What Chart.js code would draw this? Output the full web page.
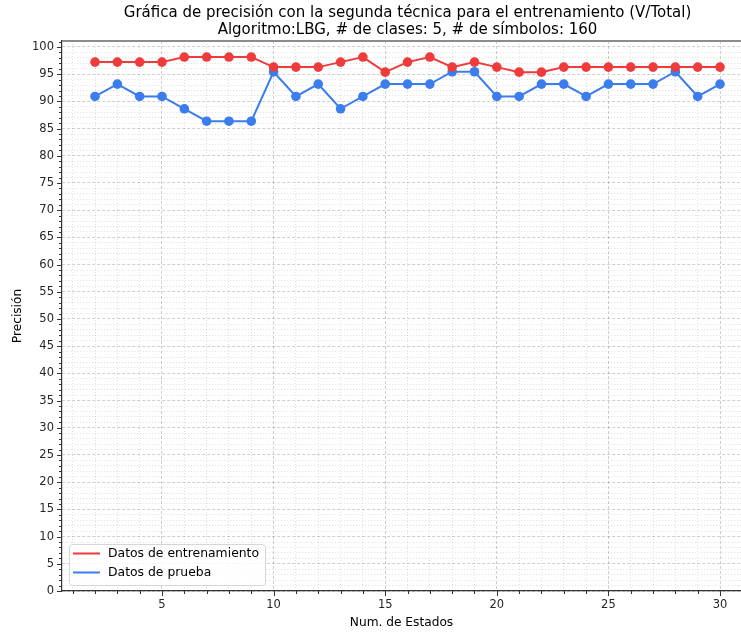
<!DOCTYPE html>
<html>
<head>
<meta charset="utf-8">
<script src="https://cdn.jsdelivr.net/npm/chart.js@4/dist/chart.umd.min.js"></script>
<style>
  html, body { margin: 0; padding: 0; background: #ffffff; }
  canvas { display: block; }
</style>
</head>
<body>
<canvas id="chart" width="741" height="634"></canvas>
<script>
// Number of HMM states evaluated
const states = [2, 3, 4, 5, 6, 7, 8, 9, 10, 11, 12, 13, 14, 15, 16, 17, 18, 19, 20, 21, 22, 23, 24, 25, 26, 27, 28, 29, 30];

// Accuracy (%) on the training set
const trainAcc = [97.22, 97.22, 97.22, 97.22, 98.15, 98.15, 98.15, 98.15, 96.30, 96.30,
                  96.30, 97.22, 98.15, 95.37, 97.22, 98.15, 96.30, 97.22, 96.30, 95.37,
                  95.37, 96.30, 96.30, 96.30, 96.30, 96.30, 96.30, 96.30, 96.30];

// Accuracy (%) on the test set
const testAcc = [90.91, 93.18, 90.91, 90.91, 88.64, 86.36, 86.36, 86.36, 95.45, 90.91,
                 93.18, 88.64, 90.91, 93.18, 93.18, 93.18, 95.45, 95.45, 90.91, 90.91,
                 93.18, 93.18, 90.91, 93.18, 93.18, 93.18, 95.45, 90.91, 93.18];

const seriesNames = ['Datos de entrenamiento', 'Datos de prueba'];
const titleLines = [
  'Gráfica de precisión con la segunda técnica para el entrenamiento (V/Total)',
  'Algoritmo:LBG, # de clases: 5, # de símbolos: 160'
];
const xLabel = 'Num. de Estados';
const yLabel = 'Precisión';

// Labelled (major) ticks; unlabelled minor ticks fall on every integer
const xMajorTicks = [5, 10, 15, 20, 25, 30];
const yMajorTicks = [0, 5, 10, 15, 20, 25, 30, 35, 40, 45, 50, 55, 60, 65, 70, 75, 80, 85, 90, 95, 100];
const minorStep = 1;

// Centre of the full padded state range; titles are centred over it
const xRangeCentre = 16;

const RED = '#ef3b3b';
const BLUE = '#3b7ded';
const FONT = 'DejaVu Sans';

function integerTicks(scale) {
  const ticks = [];
  const start = Math.ceil(scale.min / minorStep) * minorStep;
  for (let v = start; v <= scale.max + 1e-9; v += minorStep) ticks.push({ value: v });
  scale.ticks = ticks;
}

function gridStyle(majors) {
  return {
    drawTicks: false,
    lineWidth: 0.8,
    color: (ctx) => (ctx.tick && majors.includes(ctx.tick.value)) ? 'rgba(0,0,0,0.24)' : 'rgba(0,0,0,0.16)'
  };
}

function borderStyle(majors) {
  return {
    display: true,
    color: '#333333',
    width: 1.2,
    dash: (ctx) => ctx.tick ? (majors.includes(ctx.tick.value) ? [3, 2] : [1, 2]) : []
  };
}

// Keep the title centred over the whole padded data range
const titleCentre = {
  id: 'titleCentre',
  afterLayout(chart) {
    const tb = chart.titleBlock;
    if (!tb) return;
    const half = (tb.right - tb.left) / 2;
    const c = chart.scales.x.getPixelForValue(xRangeCentre);
    tb.left = c - half;
    tb.right = c + half;
  }
};

// Outward tick marks: longer on labelled ticks, shorter on minor ones
const tickMarks = {
  id: 'tickMarks',
  afterDraw(chart) {
    const { ctx, scales } = chart;
    ctx.save();
    ctx.strokeStyle = '#333333';
    ctx.lineWidth = 1;
    const xs = scales.x, ys = scales.y;
    xs.ticks.forEach(t => {
      const px = Math.round(xs.getPixelForValue(t.value)) + 0.5;
      const len = xMajorTicks.includes(t.value) ? 5 : 3;
      ctx.beginPath();
      ctx.moveTo(px, xs.top);
      ctx.lineTo(px, xs.top + len);
      ctx.stroke();
    });
    ys.ticks.forEach(t => {
      const py = Math.round(ys.getPixelForValue(t.value)) + 0.5;
      const len = yMajorTicks.includes(t.value) ? 5 : 3;
      ctx.beginPath();
      ctx.moveTo(ys.right, py);
      ctx.lineTo(ys.right - len, py);
      ctx.stroke();
    });
    // upper frame line
    const area = chart.chartArea;
    ctx.strokeStyle = '#8c8c8c';
    ctx.lineWidth = 2;
    ctx.beginPath();
    ctx.moveTo(area.left, area.top);
    ctx.lineTo(area.right, area.top);
    ctx.stroke();
    ctx.restore();
  }
};

// Legend boxed inside the lower-left corner of the plot area
const innerLegend = {
  id: 'innerLegend',
  afterDraw(chart) {
    const { ctx, chartArea } = chart;
    const ds = chart.data.datasets;
    ctx.save();
    ctx.font = '12.4px "' + FONT + '"';
    const textW = Math.max(...ds.map(d => ctx.measureText(d.label).width));
    const rowH = 19;
    const lineLen = 27;
    const padX = 4, gap = 8, padR = 6;
    const w = padX + lineLen + gap + textW + padR;
    const h = 10 + rowH * (ds.length - 1) + 12;
    const x0 = chartArea.left + 7;
    const y0 = chartArea.bottom - 6 - h;
    ctx.fillStyle = 'rgba(255,255,255,0.8)';
    ctx.strokeStyle = '#d6d6d6';
    ctx.lineWidth = 1;
    ctx.beginPath();
    ctx.roundRect(x0 + 0.5, y0 + 0.5, w, h, 3);
    ctx.fill();
    ctx.stroke();
    ds.forEach((d, i) => {
      const cy = y0 + 9.5 + i * rowH;
      ctx.strokeStyle = d.borderColor;
      ctx.lineWidth = 2;
      ctx.beginPath();
      ctx.moveTo(x0 + padX, cy);
      ctx.lineTo(x0 + padX + lineLen, cy);
      ctx.stroke();
      ctx.fillStyle = '#000000';
      ctx.textBaseline = 'middle';
      ctx.textAlign = 'left';
      ctx.fillText(d.label, x0 + padX + lineLen + gap, cy);
    });
    ctx.restore();
  }
};

function series(values) {
  return states.map((s, i) => ({ x: s, y: values[i] }));
}

new Chart(document.getElementById('chart'), {
  type: 'line',
  data: {
    datasets: [
      {
        label: seriesNames[0],
        data: series(trainAcc),
        borderColor: RED,
        backgroundColor: RED,
        borderWidth: 2,
        pointRadius: 4.8,
        pointBorderWidth: 0,
        pointBackgroundColor: RED,
        tension: 0
      },
      {
        label: seriesNames[1],
        data: series(testAcc),
        borderColor: BLUE,
        backgroundColor: BLUE,
        borderWidth: 2,
        pointRadius: 4.8,
        pointBorderWidth: 0,
        pointBackgroundColor: BLUE,
        tension: 0
      }
    ]
  },
  options: {
    responsive: false,
    animation: false,
    devicePixelRatio: 1,
    layout: { autoPadding: false, padding: { left: 0, right: 0, top: 0, bottom: 0 } },
    plugins: {
      legend: { display: false },
      tooltip: { enabled: false },
      title: {
        display: true,
        fullSize: false,
        text: titleLines,
        color: '#000000',
        font: { family: FONT, size: 15, weight: 'normal', lineHeight: 1.15 },
        padding: { top: 4.5, bottom: 2 }
      }
    },
    scales: {
      x: {
        type: 'linear',
        min: 0.52,
        max: 30.94,
        afterBuildTicks: integerTicks,
        afterFit: (scale) => {
          scale.height = 43;
          scale.paddingLeft = 0;
          scale.paddingRight = 0;
        },
        ticks: {
          autoSkip: false,
          maxRotation: 0,
          padding: 7,
          color: '#262626',
          font: { family: FONT, size: 11.5 },
          callback: (v) => xMajorTicks.includes(v) ? String(v) : ''
        },
        grid: gridStyle(xMajorTicks),
        border: borderStyle(xMajorTicks),
        title: {
          display: true,
          text: xLabel,
          color: '#000000',
          font: { family: FONT, size: 12.2 },
          padding: { top: 0, bottom: 4 }
        }
      },
      y: {
        type: 'linear',
        min: 0,
        max: 101.1,
        afterBuildTicks: integerTicks,
        afterFit: (scale) => {
          scale.width = 62;
          scale.paddingTop = 0;
          scale.paddingBottom = 0;
        },
        ticks: {
          autoSkip: false,
          padding: 8,
          color: '#262626',
          font: { family: FONT, size: 11.5 },
          callback: (v) => yMajorTicks.includes(v) ? String(v) : ''
        },
        grid: gridStyle(yMajorTicks),
        border: borderStyle(yMajorTicks),
        title: {
          display: true,
          text: yLabel,
          color: '#000000',
          font: { family: FONT, size: 12.2 },
          padding: { top: 11, bottom: 0 }
        }
      }
    }
  },
  plugins: [titleCentre, tickMarks, innerLegend]
});
</script>
</body>
</html>
